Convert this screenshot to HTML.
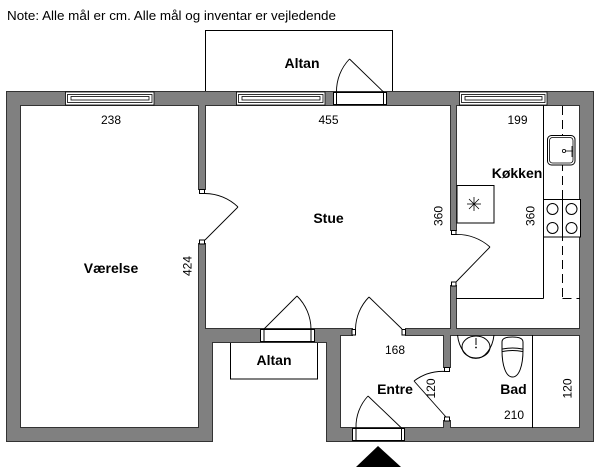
<!DOCTYPE html>
<html>
<head>
<meta charset="utf-8">
<style>
html,body{margin:0;padding:0;background:#fff;}
svg{display:block;}
text{font-family:"Liberation Sans",sans-serif;fill:#000;}
.lbl{font-weight:bold;font-size:14px;}
.dim{font-size:12px;}
</style>
</head>
<body>
<svg width="600" height="472" viewBox="0 0 600 472" xmlns="http://www.w3.org/2000/svg">
<rect x="0" y="0" width="600" height="472" fill="#fff"/>

<text x="7" y="20" font-size="13" textLength="329" lengthAdjust="spacingAndGlyphs">Note: Alle mål er cm. Alle mål og inventar er vejledende</text>

<!-- Altan boxes -->
<rect x="205.5" y="30.5" width="187" height="62" fill="none" stroke="#000" stroke-width="1"/>
<rect x="230.5" y="342" width="87" height="37" fill="#fff" stroke="#000" stroke-width="1"/>

<!-- Walls: outline pass -->
<g fill="#333" stroke="#333" stroke-width="2">
<rect x="7" y="92" width="586" height="13"/>
<rect x="7" y="92" width="13" height="349"/>
<rect x="580" y="92" width="13" height="349"/>
<rect x="7" y="428" width="205" height="13"/>
<rect x="199" y="329" width="13" height="112"/>
<rect x="199" y="329" width="141" height="13"/>
<rect x="327" y="329" width="13" height="112"/>
<rect x="327" y="428" width="266" height="13"/>
<rect x="199" y="105" width="6" height="84"/>
<rect x="199" y="244" width="6" height="85"/>
<rect x="451" y="105" width="5" height="125"/>
<rect x="451" y="286" width="5" height="43"/>
<rect x="340" y="329" width="12" height="6"/>
<rect x="406" y="329" width="175" height="6"/>
<rect x="444" y="335" width="6" height="32"/>
<rect x="444" y="421" width="6" height="7"/>
</g>
<!-- Walls: fill pass -->
<g fill="#808080">
<rect x="7" y="92" width="586" height="13"/>
<rect x="7" y="92" width="13" height="349"/>
<rect x="580" y="92" width="13" height="349"/>
<rect x="7" y="428" width="205" height="13"/>
<rect x="199" y="329" width="13" height="112"/>
<rect x="199" y="329" width="141" height="13"/>
<rect x="327" y="329" width="13" height="112"/>
<rect x="327" y="428" width="266" height="13"/>
<rect x="199" y="105" width="6" height="84"/>
<rect x="199" y="244" width="6" height="85"/>
<rect x="451" y="105" width="5" height="125"/>
<rect x="451" y="286" width="5" height="43"/>
<rect x="340" y="329" width="12" height="6"/>
<rect x="406" y="329" width="175" height="6"/>
<rect x="444" y="335" width="6" height="32"/>
<rect x="444" y="421" width="6" height="7"/>
</g>

<!-- End caps -->
<g fill="#fff" stroke="#000" stroke-width="1">
<rect x="199.5" y="189.5" width="5" height="4"/>
<rect x="199.5" y="240" width="5" height="4"/>
<rect x="451.5" y="230.5" width="4.5" height="4"/>
<rect x="451.5" y="282" width="4.5" height="4"/>
<rect x="352" y="329.5" width="3.5" height="5.5"/>
<rect x="402" y="329.5" width="3.5" height="5.5"/>
<rect x="444.5" y="367.5" width="5" height="4"/>
<rect x="444.5" y="417" width="5" height="4"/>
</g>

<!-- Windows -->
<g fill="#fff" stroke="#000" stroke-width="0.8">
<rect x="65.5" y="92" width="88.5" height="13"/>
<rect x="67.5" y="94.5" width="84.5" height="8"/>
<rect x="71" y="96.5" width="78" height="3.5"/>
<rect x="236.5" y="92" width="88.5" height="13"/>
<rect x="238.5" y="94.5" width="84.5" height="8"/>
<rect x="242" y="96.5" width="78" height="3.5"/>
<rect x="459.5" y="92" width="87.5" height="13"/>
<rect x="461.5" y="94.5" width="83.5" height="8"/>
<rect x="465" y="96.5" width="77" height="3.5"/>
</g>

<!-- Exterior door openings -->
<g fill="#fff" stroke="#000" stroke-width="1">
<rect x="333.5" y="92.5" width="53" height="12"/>
<line x1="336.5" y1="92.5" x2="336.5" y2="104.5"/>
<line x1="383.5" y1="92.5" x2="383.5" y2="104.5"/>
<rect x="260.5" y="329.5" width="54" height="12"/>
<line x1="264" y1="329.5" x2="264" y2="341.5"/>
<line x1="311" y1="329.5" x2="311" y2="341.5"/>
<rect x="352.5" y="428.5" width="52" height="12"/>
<line x1="356" y1="428.5" x2="356" y2="440.5"/>
<line x1="401.5" y1="428.5" x2="401.5" y2="440.5"/>
</g>

<!-- Door swings -->
<g fill="none" stroke="#000" stroke-width="0.9">
<line x1="383.5" y1="92" x2="349.5" y2="59"/>
<path d="M349.5,59 A47,47 0 0 0 336.5,92"/>
<line x1="205" y1="240" x2="238" y2="207"/>
<path d="M238,207 A48,48 0 0 0 205,193.5"/>
<line x1="456" y1="282" x2="490" y2="247"/>
<path d="M490,247 A49,49 0 0 0 456,234.5"/>
<line x1="264" y1="329" x2="297" y2="296"/>
<path d="M297,296 A47,47 0 0 1 311,329"/>
<line x1="402" y1="329" x2="369" y2="297"/>
<path d="M369,297 A47,47 0 0 0 355.5,329"/>
<line x1="446" y1="417" x2="414" y2="381"/>
<path d="M414,381 A48,48 0 0 1 446,371.5"/>
<line x1="401.5" y1="428" x2="368" y2="396"/>
<path d="M368,396 A45,45 0 0 0 356,428"/>
</g>

<!-- Kitchen fixtures -->
<g fill="none" stroke="#000" stroke-width="1">
<line x1="543.5" y1="105" x2="543.5" y2="298.5"/>
<line x1="456" y1="298.5" x2="543.5" y2="298.5"/>
</g>
<g fill="none" stroke="#000" stroke-width="1" stroke-dasharray="9,5">
<line x1="562.5" y1="106" x2="562.5" y2="298.5"/>
<line x1="562.5" y1="298.5" x2="580" y2="298.5"/>
</g>
<rect x="547.5" y="135.5" width="27.5" height="29.5" rx="4" fill="#fff" stroke="#000" stroke-width="1"/>
<rect x="549.5" y="137.5" width="23.5" height="25.5" rx="3" fill="#fff" stroke="#000" stroke-width="0.8"/>
<circle cx="564" cy="151" r="1.6" fill="none" stroke="#000" stroke-width="0.8"/>
<line x1="565.5" y1="151" x2="573" y2="151" stroke="#000" stroke-width="0.8"/>
<line x1="572" y1="146" x2="572" y2="157" stroke="#000" stroke-width="0.8"/>
<rect x="543.5" y="199.5" width="37" height="37.5" fill="#fff" stroke="#000" stroke-width="1"/>
<line x1="562.5" y1="199.5" x2="562.5" y2="237" stroke="#000" stroke-width="1"/>
<g fill="none" stroke="#000" stroke-width="1">
<circle cx="552.5" cy="209" r="5.5"/>
<circle cx="571.5" cy="209" r="5.5"/>
<circle cx="552.5" cy="228" r="5.5"/>
<circle cx="571.5" cy="228" r="5.5"/>
</g>
<rect x="457" y="185.5" width="37" height="37.5" fill="#fff" stroke="#000" stroke-width="1"/>
<g stroke="#000" stroke-width="0.8">
<line x1="474" y1="197" x2="474" y2="211"/>
<line x1="467" y1="204" x2="481" y2="204"/>
<line x1="469" y1="199" x2="479" y2="209"/>
<line x1="479" y1="199" x2="469" y2="209"/>
</g>

<!-- Bath fixtures -->
<g fill="none" stroke="#000" stroke-width="1">
<path d="M457.5,335 A18.5,28 0 0 0 494,335"/>
<ellipse cx="476" cy="347" rx="14" ry="11"/>
<line x1="476" y1="338" x2="476" y2="345"/>
<path d="M502,350 L502,342 Q502,337 512.5,337 Q523,337 523,342 L523,350 C523,366 519,377 512.5,377 C506,377 502,366 502,350 Z"/>
<path d="M502.5,349 Q512.5,347 522.5,349"/>
<path d="M502.5,351.5 Q512.5,349.5 522.5,351.5"/>
<line x1="532.5" y1="335" x2="532.5" y2="428"/>
</g>
<circle cx="476" cy="347.5" r="0.9" fill="#000"/>

<!-- Entrance arrow -->
<polygon points="378,446 401,467 356,467" fill="#000"/>

<!-- Labels -->
<text class="lbl" x="302" y="68" text-anchor="middle">Altan</text>
<text class="lbl" x="111" y="273" text-anchor="middle">Værelse</text>
<text class="lbl" x="328.5" y="223" text-anchor="middle">Stue</text>
<text class="lbl" x="517" y="178" text-anchor="middle">Køkken</text>
<text class="lbl" x="274" y="365" text-anchor="middle">Altan</text>
<text class="lbl" x="395" y="394" text-anchor="middle">Entre</text>
<text class="lbl" x="513.5" y="394" text-anchor="middle">Bad</text>

<!-- Dimensions -->
<text class="dim" x="111" y="124" text-anchor="middle">238</text>
<text class="dim" x="328.5" y="124" text-anchor="middle">455</text>
<text class="dim" x="517.5" y="124" text-anchor="middle">199</text>
<text class="dim" x="395" y="354" text-anchor="middle">168</text>
<text class="dim" x="514" y="419" text-anchor="middle">210</text>
<text class="dim" transform="translate(191.5,266) rotate(-90)" text-anchor="middle">424</text>
<text class="dim" transform="translate(442.5,216) rotate(-90)" text-anchor="middle">360</text>
<text class="dim" transform="translate(534.5,216) rotate(-90)" text-anchor="middle">360</text>
<text class="dim" transform="translate(435,388.5) rotate(-90)" text-anchor="middle">120</text>
<text class="dim" transform="translate(571.5,388.5) rotate(-90)" text-anchor="middle">120</text>
</svg>
</body>
</html>
